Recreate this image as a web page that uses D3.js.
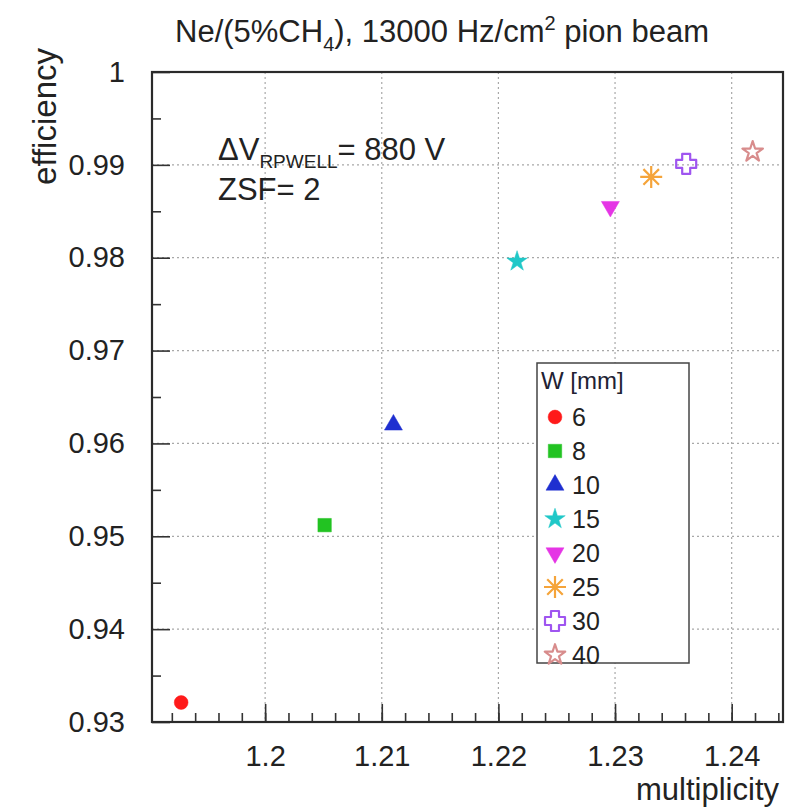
<!DOCTYPE html>
<html>
<head>
<meta charset="utf-8">
<script src="https://cdn.jsdelivr.net/npm/d3@7"></script>
<style>
  body { margin: 0; background: #fff; }
  svg { display: block; font-family: "Liberation Sans", Arial, Helvetica, sans-serif; }
</style>
</head>
<body>
<svg id="chart" width="799" height="807"></svg>
<script>
// Data
const widths = ["6", "8", "10", "15", "20", "25", "30", "40"];
const multiplicity = [1.1928, 1.2051, 1.2110, 1.2216, 1.2296, 1.2331, 1.2361, 1.2418];
const efficiency = [0.9321, 0.9512, 0.9620, 0.9796, 0.9855, 0.9887, 0.9901, 0.9914];
const colors = ["#ff1a1a", "#22c322", "#1f2fd0", "#20c8c8", "#e535e5", "#f5a43a", "#9f55f0", "#d88c8c"];
const shapes = ["circle", "square", "triangle", "star", "triangleDown", "asterisk", "openCross", "openStar"];

const xTicks = [1.2, 1.21, 1.22, 1.23, 1.24];
const yTicks = [0.93, 0.94, 0.95, 0.96, 0.97, 0.98, 0.99, 1];

const svg = d3.select("#chart");
const frame = { left: 152, right: 783, top: 72, bottom: 722 };

const x = d3.scaleLinear().domain([1.1903, 1.2444]).range([frame.left, frame.right]);
const y = d3.scaleLinear().domain([0.93, 1.0]).range([frame.bottom, frame.top]);

// grid (dotted, at major ticks)
const grid = svg.append("g").attr("stroke", "#a8a8a8").attr("stroke-width", 1.2)
    .attr("stroke-dasharray", "2,3");
grid.selectAll("line.gx").data(xTicks).join("line")
    .attr("x1", d => x(d)).attr("x2", d => x(d))
    .attr("y1", frame.top).attr("y2", frame.bottom);
grid.selectAll("line.gy").data(yTicks.filter(d => d > 0.93 && d < 1)).join("line")
    .attr("x1", frame.left).attr("x2", frame.right)
    .attr("y1", d => y(d)).attr("y2", d => y(d));

// axes: ROOT style ticks pointing inward
const xAxis = d3.axisBottom(x).tickValues(xTicks).tickSize(-18).tickPadding(23)
    .tickFormat(d3.format(".2~f"));
const xMinor = d3.axisBottom(x).tickValues(d3.range(1.192, 1.2441, 0.002)).tickSize(-9).tickFormat("");
const yAxis = d3.axisLeft(y).tickValues(yTicks).tickSize(-18).tickPadding(27)
    .tickFormat(d => d === 1 ? "1" : d3.format(".2f")(d));
const yMinor = d3.axisLeft(y).tickValues(d3.range(0.935, 1, 0.01)).tickSize(-9).tickFormat("");

function styleAxis(g) {
  g.select(".domain").remove();
  g.selectAll(".tick line").attr("stroke", "#333").attr("stroke-width", 1.6);
  g.selectAll(".tick text").attr("fill", "#222").attr("font-size", 29)
      .attr("font-family", "Liberation Sans, Arial, sans-serif");
}
svg.append("g").attr("transform", `translate(0,${frame.bottom})`).call(xMinor).call(styleAxis);
svg.append("g").attr("transform", `translate(0,${frame.bottom})`).call(xAxis).call(styleAxis);
svg.append("g").attr("transform", `translate(${frame.left},0)`).call(yMinor).call(styleAxis);
svg.append("g").attr("transform", `translate(${frame.left},0)`).call(yAxis).call(styleAxis);

// frame
svg.append("rect")
    .attr("x", frame.left).attr("y", frame.top)
    .attr("width", frame.right - frame.left).attr("height", frame.bottom - frame.top)
    .attr("fill", "none").attr("stroke", "#2a2a2a").attr("stroke-width", 2.2);

// marker paths
function markerPath(shape) {
  switch (shape) {
    case "circle": return d3.symbol(d3.symbolCircle, 150)();
    case "square": return d3.symbol(d3.symbolSquare, 180)();
    case "triangle": return d3.symbol(d3.symbolTriangle, 140)();
    case "triangleDown": return d3.symbol(d3.symbolTriangle, 140)();
    case "star": return d3.symbol(d3.symbolStar, 130)();
    case "openStar": return d3.symbol(d3.symbolStar, 130)();
    case "asterisk": {
      const r = 11;
      let p = "";
      for (let i = 0; i < 4; i++) {
        const a = i * Math.PI / 4;
        p += `M${-r * Math.cos(a)},${-r * Math.sin(a)}L${r * Math.cos(a)},${r * Math.sin(a)}`;
      }
      return p;
    }
    case "openCross": {
      const a = 4, b = 10;
      return `M${-a},${-b}L${a},${-b}L${a},${-a}L${b},${-a}L${b},${a}L${a},${a}L${a},${b}` +
             `L${-a},${b}L${-a},${a}L${-b},${a}L${-b},${-a}L${-a},${-a}Z`;
    }
  }
}
function drawMarker(g, shape, color) {
  const open = shape === "asterisk" || shape === "openCross" || shape === "openStar";
  g.append("path")
      .attr("d", markerPath(shape))
      .attr("transform", shape === "triangleDown" ? "rotate(180)" : null)
      .attr("fill", open ? "none" : color)
      .attr("stroke", color)
      .attr("stroke-width", open ? 2.2 : 0.5)
      .attr("stroke-linejoin", "round");
}

const points = widths.map((w, i) => ({ w, mx: multiplicity[i], ef: efficiency[i], c: colors[i], s: shapes[i] }));
svg.append("g").selectAll("g").data(points).join("g")
    .attr("transform", d => `translate(${x(d.mx)},${y(d.ef)})`)
    .each(function(d) { drawMarker(d3.select(this), d.s, d.c); });

// title
const title = svg.append("text").attr("x", 442).attr("y", 42)
    .attr("text-anchor", "middle").attr("font-size", 31).attr("fill", "#222");
title.append("tspan").text("Ne/(5%CH");
title.append("tspan").attr("font-size", 20).attr("dy", 9).text("4");
title.append("tspan").attr("dy", -9).text("), 13000 Hz/cm");
title.append("tspan").attr("font-size", 20).attr("dy", -12).text("2");
title.append("tspan").attr("dy", 12).text(" pion beam");

// axis titles
svg.append("text").attr("x", 779).attr("y", 800).attr("text-anchor", "end")
    .attr("font-size", 31).attr("fill", "#222").text("multiplicity");
svg.append("text").attr("transform", "translate(56,48) rotate(-90)").attr("text-anchor", "end")
    .attr("font-size", 33).attr("fill", "#222").text("efficiency");

// annotation
const ann = svg.append("text").attr("x", 218).attr("y", 160).attr("font-size", 31).attr("fill", "#222");
ann.append("tspan").text("ΔV");
ann.append("tspan").attr("font-size", 19).attr("dy", 8).text("RPWELL");
ann.append("tspan").attr("dy", -8).text("= 880 V");
svg.append("text").attr("x", 218).attr("y", 200).attr("font-size", 31).attr("fill", "#222").text("ZSF= 2");

// legend
const legend = svg.append("g");
legend.append("rect").attr("x", 537).attr("y", 363).attr("width", 152).attr("height", 300)
    .attr("fill", "#fff").attr("stroke", "#444").attr("stroke-width", 1.5);
legend.append("text").attr("x", 541).attr("y", 389).attr("font-size", 24).attr("fill", "#223").text("W [mm]");
const rows = legend.selectAll("g.row").data(points).join("g").attr("class", "row")
    .attr("transform", (d, i) => `translate(555,${417 + i * 34})`);
rows.each(function(d) { drawMarker(d3.select(this), d.s, d.c); });
rows.append("text").attr("x", 17).attr("y", 9).attr("font-size", 25).attr("fill", "#222").text(d => d.w);
</script>
</body>
</html>
